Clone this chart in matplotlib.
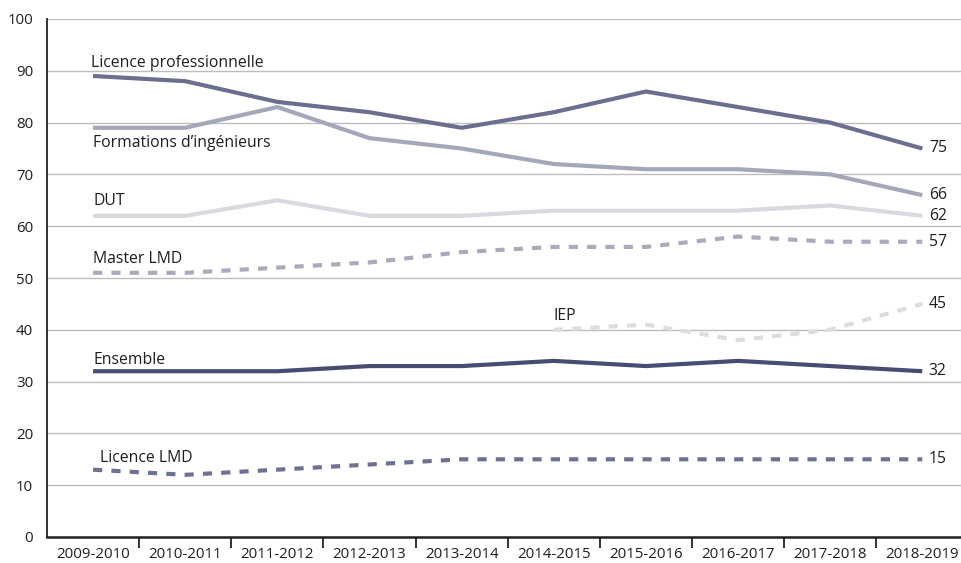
import numpy as np
import matplotlib
matplotlib.use("Agg")
import matplotlib.pyplot as plt

plt.rcParams['font.family'] = ['Open Sans', 'DejaVu Sans']

categories = ["2009-2010", "2010-2011", "2011-2012", "2012-2013", "2013-2014",
              "2014-2015", "2015-2016", "2016-2017", "2017-2018", "2018-2019"]

licence_pro = [89, 88, 84, 82, 79, 82, 86, 83, 80, 75]
ingenieurs = [79, 79, 83, 77, 75, 72, 71, 71, 70, 66]
dut = [62, 62, 65, 62, 62, 63, 63, 63, 64, 62]
master_lmd = [51, 51, 52, 53, 55, 56, 56, 58, 57, 57]
iep = [np.nan, np.nan, np.nan, np.nan, np.nan, 40, 41, 38, 40, 45]
ensemble = [32, 32, 32, 33, 33, 34, 33, 34, 33, 32]
licence_lmd = [13, 12, 13, 14, 15, 15, 15, 15, 15, 15]

series = [
    ("Licence professionnelle", licence_pro, "#6b6f8f", "-", (-0.02, 91.6)),
    ("Formations d\u2019ingénieurs", ingenieurs, "#a4a7b7", "-", (0.0, 76.1)),
    ("DUT", dut, "#d9dadf", "-", (0.0, 64.9)),
    ("Master LMD", master_lmd, "#a9abbb", "--", (0.0, 53.6)),
    ("IEP", iep, "#dcdde1", "--", (5.0, 42.6)),
    ("Ensemble", ensemble, "#464d73", "-", (0.0, 34.1)),
    ("Licence LMD", licence_lmd, "#6e7292", "--", (0.08, 15.2)),
]

W, H = 961, 563
fig = plt.figure(figsize=(W / 100, H / 100), dpi=100)
ax = fig.add_axes([47 / W, (H - 537) / H, (W - 47) / W, (537 - 19) / H])

x = np.arange(len(categories))
for name, vals, color, ls, (lx, ly) in series:
    kw = dict(color=color, lw=3.0, solid_capstyle='butt', zorder=3)
    if ls == "--":
        kw['dashes'] = (2.2, 2.2)
    ax.plot(x, vals, **kw)
    ax.text(lx, ly, name, fontsize=11.3, va='center', ha='left', color='#1e1e1e')
    last = vals[-1]
    ax.text(9.07, last, f"{last:g}", fontsize=11.3, va='center', ha='left', color='#1e1e1e')

ax.set_xlim(-0.5, 9.42)
ax.set_ylim(0, 100)
ax.set_yticks(np.arange(0, 101, 10))
ax.tick_params(axis='y', length=0, pad=10, labelsize=10.8, labelcolor='#1e1e1e')
ax.yaxis.grid(True, color='#bdbdbd', lw=1.0, zorder=0)
ax.set_axisbelow(True)

ax.set_xticks(np.arange(0.5, 9, 1))
ax.set_xticklabels([])
ax.set_xticks(x, minor=True)
ax.set_xticklabels(categories, minor=True)
ax.tick_params(axis='x', which='major', direction='out', length=8, width=1.3, color='#222222')
ax.tick_params(axis='x', which='minor', length=0, pad=7, labelsize=10.8, labelcolor='#1e1e1e')

for s in ['top', 'right']:
    ax.spines[s].set_visible(False)
ax.spines['left'].set_color('#222222')
ax.spines['left'].set_linewidth(1.3)
ax.spines['bottom'].set_color('#222222')
ax.spines['bottom'].set_linewidth(1.8)
ax.spines['left'].set_zorder(4)
ax.spines['bottom'].set_zorder(4)

fig.savefig("out.png", dpi=100)
